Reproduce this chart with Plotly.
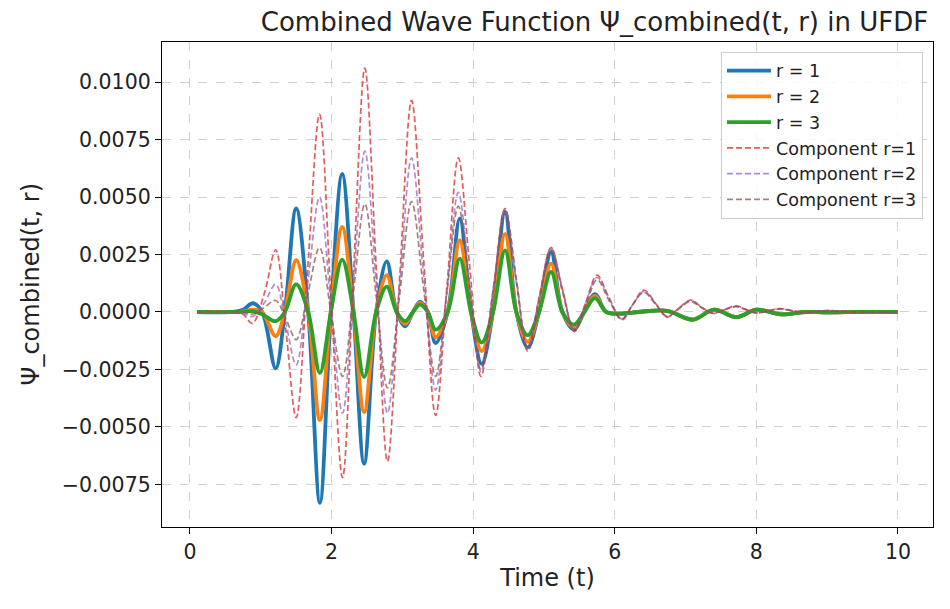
import plotly.graph_objects as go

# ---- data ----
t_comb = [0.1, 0.6, 0.75, 0.89, 1.02, 1.21, 1.34, 1.5, 1.67, 1.835, 1.99, 2.15, 2.31, 2.46, 2.63,
          2.78, 2.92, 3.04, 3.15, 3.25, 3.36, 3.47, 3.64, 3.81, 3.97, 4.12, 4.28, 4.45, 4.61, 4.77,
          4.93, 5.10, 5.26, 5.42, 5.57, 5.72, 5.88, 6.05, 6.40, 6.74, 7.10, 7.40, 7.72, 8.00, 8.35,
          8.70, 9.00, 9.50, 10.0]

psi_r1 = [0, 0, 0.0001, 0.00038, 0, -0.00245, 0, 0.0045, 0, -0.0083, 0, 0.0060, 0, -0.0066, 0,
          0.0022, 0, -0.00062, 0, 0.00045, 0, -0.00135, 0, 0.00406, 0, -0.00226, 0, 0.00435, 0, -0.00154,
          0, 0.0026, 0, -0.00075, 0, 0.00078, 0, -0.00008, 0.00002, 0.00005, -0.00032, 0.0001, -0.00022,
          0.0001, -0.0001, 0.0, -0.00002, 0, 0]

psi_r2 = [0, 0, 0.00003, 0.0001, 0, -0.00105, 0, 0.00225, 0, -0.0047, 0, 0.0037, 0, -0.00435, 0,
          0.0016, 0, -0.00052, 0, 0.0004, 0, -0.0011, 0, 0.00312, 0, -0.0017, 0, 0.0034, 0, -0.0013,
          0, 0.0021, 0, -0.00065, 0, 0.0007, 0, -0.00007, 0.00002, 0.00005, -0.00033, 0.0001, -0.00022,
          0.0001, -0.0001, 0, -0.00002, 0, 0]

psi_r3 = [0, 0, 0.00001, 0.00003, -0.0001, -0.0004, 0, 0.0012, 0, -0.00265, 0, 0.00228, 0, -0.00283, 0,
          0.0011, 0, -0.0004, 0, 0.00032, 0, -0.00077, 0, 0.00232, 0, -0.00133, 0, 0.00268, 0, -0.00101,
          0, 0.00174, 0, -0.00055, 0, 0.0006, 0, -0.00007, 0.00002, 0.00005, -0.00034, 0.0001, -0.00023,
          0.0001, -0.0001, 0, -0.00002, 0, 0]

t_comp = [0.1, 0.6, 0.75, 0.88, 1.05, 1.21, 1.355, 1.5, 1.665, 1.83, 1.99, 2.155, 2.31, 2.47, 2.63,
          2.79, 2.96, 3.13, 3.30, 3.47, 3.63, 3.79, 3.95, 4.11, 4.28, 4.45, 4.61, 4.77, 4.93, 5.10,
          5.26, 5.43, 5.59, 5.75, 5.92, 6.10, 6.25, 6.41, 6.58, 6.74, 6.90, 7.07, 7.22, 7.38, 7.55,
          7.71, 7.85, 7.99, 8.17, 8.34, 8.50, 8.68, 8.85, 9.02, 9.20, 9.50, 10.0]

comp_r1 = [0, 0, -0.0001, -0.0005, 0.0008, 0.0027, -0.0008, -0.0046, 0.0020, 0.0086, 0.0007, -0.0072,
           0.0017, 0.0106, 0.0020, -0.0065, 0.0014, 0.0092, 0.0023, -0.0045, 0.0011, 0.0067, 0.0020,
           -0.0028, 0.0008, 0.0045, 0.0014, -0.0017, 0.0005, 0.0028, 0.0010, -0.00085, 0.0004, 0.0016,
           0.0006, -0.00035, 0.0003, 0.00095, 0.00036, -0.00022, 0.00015, 0.00052, 0.00023, -0.00006,
           0.0001, 0.00027, 0.00012, -0.00004, 0.00005, 0.00015, 0.00006, -0.00002, 0.00002, 0.00007,
           0.00003, 0, 0]

comp_r2 = [0, 0, -0.00005, -0.0002, 0.0004, 0.0012, -0.0005, -0.0023, 0.0013, 0.0050, 0.0003, -0.0044,
           0.0013, 0.0070, 0.0013, -0.0044, 0.0011, 0.0067, 0.0016, -0.0034, 0.0009, 0.0052, 0.0013,
           -0.0026, 0.0009, 0.0044, 0.0014, -0.0016, 0.0006, 0.0028, 0.0010, -0.0008, 0.0004, 0.0015,
           0.0006, -0.0003, 0.0003, 0.0009, 0.00035, -0.0002, 0.00015, 0.0005, 0.00022, -0.00005,
           0.0001, 0.00025, 0.00011, -0.00003, 0.00005, 0.00014, 0.00006, -0.00002, 0.00002, 0.00006,
           0.00003, 0, 0]

comp_r3 = [0, 0, 0, -0.0001, 0.0002, 0.0005, -0.0003, -0.0012, 0.0008, 0.0028, 0.0, -0.0028,
           0.0009, 0.0047, 0.0007, -0.0033, 0.0007, 0.0048, 0.0010, -0.0028, 0.0009, 0.0046, 0.0010,
           -0.0025, 0.0009, 0.0043, 0.0013, -0.0016, 0.0006, 0.0027, 0.0009, -0.0008, 0.0003, 0.0014,
           0.0005, -0.0003, 0.0003, 0.00085, 0.00032, -0.0002, 0.00013, 0.00046, 0.0002, -0.00005,
           0.00009, 0.00023, 0.0001, -0.00003, 0.00004, 0.00013, 0.00005, -0.00002, 0.00002, 0.00005,
           0.00002, 0, 0]

combined_names = ["r = 1", "r = 2", "r = 3"]
component_names = ["Component r=1", "Component r=2", "Component r=3"]
y_ticks = [-0.0075, -0.005, -0.0025, 0.0, 0.0025, 0.005, 0.0075, 0.01]
x_ticks = [0, 2, 4, 6, 8, 10]

# ---- styling ----
FONT = "DejaVu Sans"
comb_colors = ["#1f77b4", "#ff7f0e", "#2ca02c"]
comp_colors = ["rgba(214,39,40,0.75)", "rgba(148,103,189,0.75)", "rgba(140,86,75,0.75)"]

fig = go.Figure()
for name, ys, col in zip(combined_names, [psi_r1, psi_r2, psi_r3], comb_colors):
    fig.add_trace(go.Scatter(x=t_comb, y=ys, mode="lines", name=name,
                             line=dict(color=col, width=3.8, shape="spline", smoothing=1.0)))
for name, ys, col in zip(component_names, [comp_r1, comp_r2, comp_r3], comp_colors):
    fig.add_trace(go.Scatter(x=t_comp, y=ys, mode="lines", name=name,
                             line=dict(color=col, width=1.7, dash="6px,3px", shape="spline", smoothing=1.0)))

axis_common = dict(
    showline=True, linecolor="black", linewidth=1.3, mirror=True,
    ticks="outside", ticklen=6, tickwidth=1.3, tickcolor="black",
    showgrid=True, gridcolor="rgba(190,190,190,0.7)", griddash="dash", gridwidth=1,
    zeroline=False, tickfont=dict(family=FONT, size=20.5, color="#222"),
)

# page body adds an 8px offset, so the figure is sized/margined to compensate
fig.update_layout(
    width=942, height=601,
    margin=dict(l=154, r=17, t=34, b=82),
    paper_bgcolor="white", plot_bgcolor="white",
    font=dict(family=FONT, color="#222"),
    title=dict(text="Combined Wave Function Ψ_combined(t, r) in UFDF",
               x=0.6226, xanchor="center", y=0.992, yanchor="top",
               font=dict(family=FONT, size=26, color="#222")),
    xaxis=dict(range=[-0.395, 10.495], tickvals=x_ticks, ticktext=[str(v) for v in x_ticks],
               title=dict(text="Time (t)", font=dict(family=FONT, size=24), standoff=6),
               **axis_common),
    yaxis=dict(range=[-0.00935, 0.01174], tickvals=y_ticks, tickformat=".4f", **axis_common),
    annotations=[dict(text="Ψ_combined(t, r)", textangle=-90, xref="paper", yref="paper",
                      x=-0.1712, y=0.5, xanchor="center", yanchor="middle", showarrow=False,
                      font=dict(family=FONT, size=24, color="#222"))],
    legend=dict(x=0.987, y=0.98, xanchor="right", yanchor="top",
                bgcolor="rgba(255,255,255,0.85)", bordercolor="#cccccc", borderwidth=1,
                font=dict(family=FONT, size=17.5, color="#222"), tracegroupgap=0, itemwidth=44),
    showlegend=True,
)

fig.write_html("out.html")
